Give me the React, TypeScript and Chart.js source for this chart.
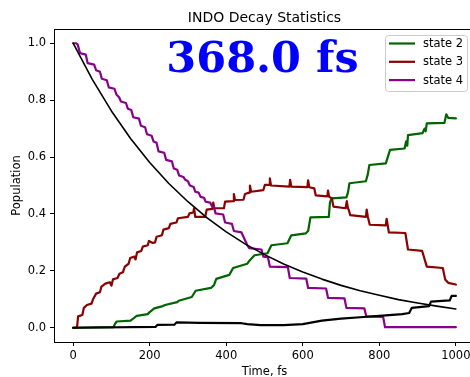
import { useEffect, useRef } from "react";
import { Chart, registerables } from "chart.js";

Chart.register(...registerables);

const chartTitle = "INDO Decay Statistics";
const xAxisLabel = "Time, fs";
const yAxisLabel = "Population";
const lifetimeLabel = "368.0 fs";

const xTicks = [0, 200, 400, 600, 800, 1000];
const yTicks = [0, 0.2, 0.4, 0.6, 0.8, 1.0];

const state2Time = [0, 105, 110, 114, 150, 155, 166, 195, 200, 212, 232, 240, 272, 276, 310, 320, 360, 368, 374, 408, 418, 455, 460, 474, 508, 518, 560, 570, 608, 614, 620, 668, 671, 675, 714, 718, 722, 765, 770, 774, 817, 828, 866, 870, 873, 875, 913, 918, 921, 924, 970, 975, 980, 1000];
const state2Pop = [0, 0.002, 0.015, 0.022, 0.025, 0.03, 0.042, 0.048, 0.055, 0.068, 0.075, 0.08, 0.09, 0.095, 0.108, 0.13, 0.14, 0.15, 0.172, 0.186, 0.21, 0.225, 0.235, 0.255, 0.262, 0.29, 0.297, 0.325, 0.332, 0.34, 0.388, 0.39, 0.44, 0.455, 0.458, 0.475, 0.508, 0.515, 0.54, 0.572, 0.578, 0.625, 0.63, 0.655, 0.64, 0.677, 0.684, 0.7, 0.69, 0.718, 0.72, 0.75, 0.738, 0.736];

const state3Time = [0, 10, 13, 24, 28, 36, 48, 52, 60, 70, 74, 84, 96, 100, 104, 116, 121, 130, 135, 145, 149, 160, 163, 167, 178, 182, 195, 198, 208, 214, 218, 232, 236, 250, 254, 270, 274, 300, 304, 314, 316, 319, 345, 349, 364, 366, 369, 394, 397, 418, 420, 423, 445, 449, 460, 462, 465, 497, 501, 512, 514, 517, 565, 567, 570, 612, 614, 617, 630, 634, 664, 666, 669, 676, 680, 712, 715, 718, 720, 724, 765, 767, 770, 775, 817, 819, 822, 825, 868, 875, 912, 924, 966, 972, 980, 1000];
const state3Pop = [0, 0, 0.04, 0.045, 0.07, 0.08, 0.085, 0.1, 0.12, 0.125, 0.145, 0.155, 0.16, 0.148, 0.17, 0.175, 0.19, 0.195, 0.215, 0.225, 0.245, 0.25, 0.24, 0.265, 0.27, 0.285, 0.29, 0.305, 0.298, 0.3, 0.32, 0.325, 0.345, 0.35, 0.365, 0.37, 0.385, 0.39, 0.402, 0.405, 0.42, 0.39, 0.39, 0.415, 0.418, 0.44, 0.42, 0.42, 0.443, 0.445, 0.47, 0.449, 0.45, 0.47, 0.475, 0.5, 0.478, 0.484, 0.502, 0.502, 0.525, 0.5, 0.496, 0.52, 0.496, 0.494, 0.518, 0.494, 0.49, 0.465, 0.462, 0.482, 0.46, 0.455, 0.426, 0.42, 0.445, 0.42, 0.415, 0.396, 0.39, 0.415, 0.39, 0.362, 0.36, 0.383, 0.36, 0.335, 0.333, 0.275, 0.27, 0.215, 0.21, 0.17, 0.158, 0.152];

const state4Time = [0, 8, 12, 18, 33, 38, 55, 60, 70, 75, 88, 93, 108, 113, 120, 125, 138, 143, 152, 157, 172, 177, 188, 193, 205, 210, 218, 223, 238, 243, 258, 263, 272, 277, 288, 293, 300, 305, 315, 319, 328, 333, 342, 346, 358, 363, 368, 372, 392, 397, 415, 420, 440, 445, 450, 455, 460, 492, 497, 509, 514, 561, 566, 609, 614, 661, 666, 709, 714, 761, 766, 810, 815, 1000];
const state4Pop = [1.0, 1.0, 0.995, 0.965, 0.96, 0.93, 0.925, 0.905, 0.9, 0.875, 0.87, 0.845, 0.84, 0.82, 0.81, 0.795, 0.79, 0.77, 0.765, 0.74, 0.735, 0.71, 0.705, 0.68, 0.675, 0.655, 0.65, 0.62, 0.615, 0.59, 0.585, 0.56, 0.555, 0.535, 0.53, 0.52, 0.515, 0.5, 0.495, 0.478, 0.475, 0.46, 0.457, 0.443, 0.44, 0.426, 0.424, 0.402, 0.398, 0.37, 0.365, 0.34, 0.335, 0.32, 0.305, 0.29, 0.28, 0.275, 0.25, 0.248, 0.215, 0.213, 0.175, 0.173, 0.14, 0.138, 0.105, 0.103, 0.07, 0.068, 0.04, 0.038, 0.002, 0.002];

const state1Time = [0, 215, 220, 265, 270, 330, 440, 455, 490, 550, 600, 650, 700, 750, 800, 860, 878, 885, 930, 935, 984, 989, 1000];
const state1Pop = [0, 0.003, 0.01, 0.011, 0.019, 0.017, 0.016, 0.013, 0.009, 0.009, 0.013, 0.025, 0.032, 0.037, 0.042, 0.048, 0.052, 0.07, 0.076, 0.092, 0.096, 0.112, 0.112];

const fitTime = [0, 50, 100, 150, 200, 250, 300, 350, 400, 450, 500, 550, 600, 650, 700, 750, 800, 850, 900, 950, 1000];
const fitPop = [1.0, 0.873, 0.762, 0.665, 0.581, 0.507, 0.443, 0.386, 0.337, 0.294, 0.257, 0.224, 0.196, 0.171, 0.149, 0.13, 0.114, 0.099, 0.087, 0.076, 0.066];

const pairs = (t: number[], v: number[]) => t.map((x, i) => ({ x, y: v[i] }));

const FONT = '"DejaVu Sans", sans-serif';

export default function App() {
  const ref = useRef<HTMLCanvasElement>(null);

  useEffect(() => {
    if (!ref.current) return;

    const deco = {
      id: "deco",
      afterDraw(chart: any) {
        const { ctx, chartArea: a } = chart;
        ctx.save();
        // spines
        ctx.strokeStyle = "#000";
        ctx.lineWidth = 1;
        ctx.strokeRect(Math.round(a.left) + 0.5, Math.round(a.top) + 0.5, Math.round(a.right - a.left), Math.round(a.bottom - a.top));
        const cx = (a.left + a.right) / 2;
        // title
        ctx.fillStyle = "#000";
        ctx.textAlign = "center";
        ctx.textBaseline = "alphabetic";
        ctx.font = `14px ${FONT}`;
        ctx.fillText(chartTitle, cx, 21.5);
        // x label
        ctx.font = `11.5px ${FONT}`;
        ctx.fillText(xAxisLabel, cx, 375);
        // y label
        ctx.save();
        ctx.translate(19.5, (a.top + a.bottom) / 2);
        ctx.rotate(-Math.PI / 2);
        ctx.fillText(yAxisLabel, 0, 0);
        ctx.restore();
        // big lifetime text
        ctx.font = `bold 43px "DejaVu Serif", serif`;
        ctx.fillStyle = "#0000ff";
        ctx.fillText(lifetimeLabel, 262.5, 72);
        // legend
        const items = chart.data.datasets.filter((d: any) => d.label && d.label.startsWith("state"));
        const bx = 385.5, by = 35.5, bw = 82, bh = 56;
        ctx.beginPath();
        ctx.roundRect(bx, by, bw, bh, 3);
        ctx.fillStyle = "rgba(255,255,255,0.85)";
        ctx.fill();
        ctx.strokeStyle = "#cccccc";
        ctx.lineWidth = 1;
        ctx.stroke();
        ctx.font = `11.5px ${FONT}`;
        ctx.textAlign = "left";
        ctx.textBaseline = "middle";
        items.forEach((d: any, i: number) => {
          const y = 43.5 + i * 18.3;
          ctx.strokeStyle = d.borderColor;
          ctx.lineWidth = 2.2;
          ctx.beginPath();
          ctx.moveTo(389, y);
          ctx.lineTo(415, y);
          ctx.stroke();
          ctx.fillStyle = "#000";
          ctx.fillText(d.label, 423, y + 0.5);
        });
        ctx.restore();
      },
    };

    const common = { pointRadius: 0, tension: 0, fill: false, borderJoinStyle: "round" as const, borderCapStyle: "round" as const };

    const chart = new Chart(ref.current, {
      type: "line",
      data: {
        datasets: [
          { ...common, label: "state 2", data: pairs(state2Time, state2Pop), borderColor: "#006400", borderWidth: 2.2, order: 5 },
          { ...common, label: "state 3", data: pairs(state3Time, state3Pop), borderColor: "#8b0000", borderWidth: 2.2, order: 4 },
          { ...common, label: "state 4", data: pairs(state4Time, state4Pop), borderColor: "#8b008b", borderWidth: 2.2, order: 3 },
          { ...common, label: "", data: pairs(state1Time, state1Pop), borderColor: "#000000", borderWidth: 2.2, order: 2 },
          { ...common, label: "", data: pairs(fitTime, fitPop), borderColor: "#000000", borderWidth: 1.6, order: 1 },
        ],
      },
      options: {
        animation: false,
        responsive: false,
        maintainAspectRatio: false,
        devicePixelRatio: 1,
        layout: { padding: { left: 0, top: 29, right: 15, bottom: 0 } },
        plugins: { legend: { display: false }, tooltip: { enabled: false }, title: { display: false } },
        scales: {
          x: {
            type: "linear",
            min: -50,
            max: 1050,
            afterBuildTicks: (s: any) => { s.ticks = xTicks.map((v) => ({ value: v })); },
            afterFit: (s: any) => { s.height = 35; },
            grid: { drawOnChartArea: false, drawTicks: true, tickLength: 4, tickColor: "#000", tickWidth: 1 },
            border: { display: false },
            ticks: { color: "#000", font: { family: FONT, size: 11.5 }, padding: 3, maxRotation: 0, callback: (v: any) => String(v) },
          },
          y: {
            type: "linear",
            min: -0.05,
            max: 1.05,
            afterBuildTicks: (s: any) => { s.ticks = yTicks.map((v) => ({ value: v })); },
            afterFit: (s: any) => { s.width = 54; },
            grid: { drawOnChartArea: false, drawTicks: true, tickLength: 4, tickColor: "#000", tickWidth: 1 },
            border: { display: false },
            ticks: { color: "#000", font: { family: FONT, size: 11.5 }, padding: 4, callback: (v: any) => Number(v).toFixed(1) },
          },
        },
      },
      plugins: [deco],
    });

    return () => chart.destroy();
  }, []);

  return (
    <div style={{ position: "fixed", left: 0, top: 0, width: 470, height: 377, overflow: "hidden", background: "#fff" }}>
      <canvas ref={ref} width={490} height={377} style={{ display: "block", width: 490, height: 377 }} />
    </div>
  );
}
